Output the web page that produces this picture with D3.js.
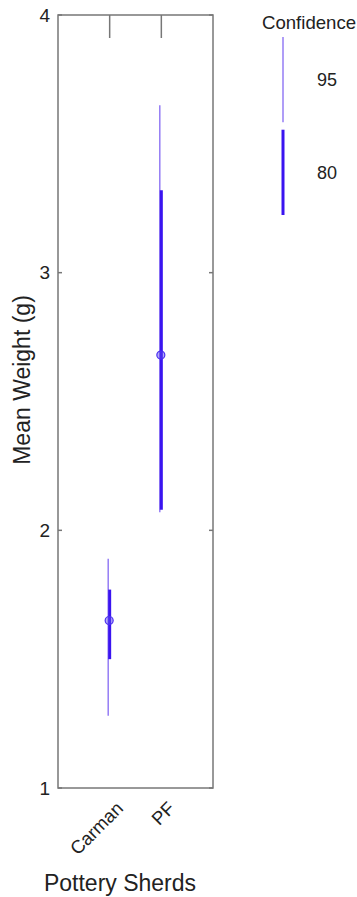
<!DOCTYPE html>
<head>
  <meta charset="utf-8">
  <script src="https://cdn.jsdelivr.net/npm/d3@7/dist/d3.min.js"></script>
  <style>
    body { margin: 0; background: white; }
    text { font-family: "Liberation Sans", Arial, sans-serif; fill: #222; }
    .frame { fill: none; stroke: #777; stroke-width: 1.5; }
    .tick-mark { stroke: #777; stroke-width: 1.5; }
  </style>
</head>
<body>
<script>
// data
const categories = ["Carman", "PF"];
const means      = [1.65, 2.68];
const ci95Low    = [1.28, 2.07];
const ci95High   = [1.89, 3.65];
const ci80Low    = [1.50, 2.08];
const ci80High   = [1.77, 3.32];
const yTicks     = [1, 2, 3, 4];
const levels     = ["95", "80"];

const W = 357, H = 897;
const L = 58, R = 213, T = 15, B = 788;

const svg = d3.select("body").append("svg")
  .attr("width", W)
  .attr("height", H);

const x = d3.scalePoint()
  .domain(categories)
  .range([L, R])
  .padding(1);

const y = d3.scaleLinear()
  .domain([1, 4])
  .range([B, T]);

// y ticks, inside on both sides
const yg = svg.append("g");
yTicks.forEach(t => {
  yg.append("line").attr("class", "tick-mark")
    .attr("x1", L).attr("x2", L + 4).attr("y1", y(t)).attr("y2", y(t));
  yg.append("line").attr("class", "tick-mark")
    .attr("x1", R - 4).attr("x2", R).attr("y1", y(t)).attr("y2", y(t));
  yg.append("text")
    .attr("x", L - 8).attr("y", y(t))
    .attr("dy", "0.35em")
    .attr("text-anchor", "end")
    .style("font-size", "19px")
    .text(t);
});

// category ticks hanging from top
categories.forEach(c => {
  svg.append("line").attr("class", "tick-mark")
    .attr("x1", x(c)).attr("x2", x(c))
    .attr("y1", T).attr("y2", T + 23);
});

// x labels rotated
categories.forEach(c => {
  svg.append("text")
    .attr("transform", "translate(" + (x(c) + 10) + "," + (B + 17) + ") rotate(-45)")
    .attr("text-anchor", "end")
    .attr("dy", "0.35em")
    .style("font-size", "18.5px")
    .text(c);
});

svg.append("rect").attr("class", "frame")
  .attr("x", L).attr("y", T)
  .attr("width", R - L).attr("height", B - T);

// intervals
const thinCol = "#7a5cf2", thickCol = "#3a14f0";
categories.forEach((c, i) => {
  svg.append("line")
    .attr("x1", x(c) - 1.5).attr("x2", x(c) - 1.5)
    .attr("y1", y(ci95Low[i])).attr("y2", y(ci95High[i]))
    .attr("stroke", thinCol).attr("stroke-width", 1.2);
  svg.append("line")
    .attr("x1", x(c)).attr("x2", x(c))
    .attr("y1", y(ci80Low[i])).attr("y2", y(ci80High[i]))
    .attr("stroke", thickCol).attr("stroke-width", 3);
  svg.append("circle")
    .attr("cx", x(c) - 0.5).attr("cy", y(means[i]))
    .attr("r", 4)
    .attr("fill", "rgba(90,70,240,0.45)")
    .attr("stroke", "#4a2ef0").attr("stroke-width", 1.2);
});

// axis titles
svg.append("text")
  .attr("transform", "translate(30,380) rotate(-90)")
  .attr("text-anchor", "middle")
  .style("font-size", "23px")
  .text("Mean Weight (g)");

svg.append("text")
  .attr("x", 120).attr("y", B + 103)
  .attr("text-anchor", "middle")
  .style("font-size", "23px")
  .text("Pottery Sherds");

// legend
svg.append("text")
  .attr("x", 262).attr("y", 29)
  .style("font-size", "18.6px")
  .text("Confidence");

const legY = d3.scaleBand().domain(levels).range([37, 215]).paddingInner(0.08);
levels.forEach((lv, i) => {
  svg.append("line")
    .attr("x1", 283).attr("x2", 283)
    .attr("y1", legY(lv)).attr("y2", legY(lv) + legY.bandwidth())
    .attr("stroke", i === 0 ? thinCol : thickCol)
    .attr("stroke-width", i === 0 ? 1.2 : 3);
  svg.append("text")
    .attr("x", 327).attr("y", legY(lv) + legY.bandwidth() / 2)
    .attr("dy", "0.35em")
    .attr("text-anchor", "middle")
    .style("font-size", "18px")
    .text(lv);
});
</script>
</body>
